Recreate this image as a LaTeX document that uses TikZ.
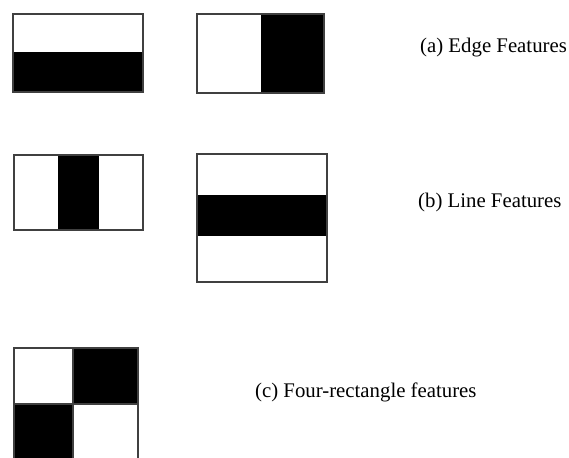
\documentclass[tikz,border=0pt]{standalone}
\usepackage{fontspec}
\setmainfont{Liberation Serif}
\begin{document}
\begin{tikzpicture}[x=1pt,y=-1pt,
  frame/.style={draw=black!75,line width=1.3pt},
  dark/.style={fill=black},
  caption/.style={anchor=west,inner sep=0pt,font=\fontsize{20.8}{24}\selectfont}]
\useasboundingbox (0,0) rectangle (569,457);
\clip (0,0) rectangle (569,457);
% (a) edge features
\fill[dark] (13,52) rectangle (143,92);
\draw[frame] (13,14) rectangle (143,92);
\fill[dark] (261,14) rectangle (324,93);
\draw[frame] (197,14) rectangle (324,93);
\node[caption] (ea) at (420,48) {(a) Edge Features};
% (b) line features
\fill[dark] (58,155) rectangle (99,230);
\draw[frame] (14,155) rectangle (143,230);
\fill[dark] (197,195) rectangle (327,236);
\draw[frame] (197,154) rectangle (327,282);
\node[caption] (lb) at (418,202) {(b) Line Features};
% (c) four-rectangle features
\fill[dark] (73,348) rectangle (138,404);
\fill[dark] (14,404) rectangle (73,460);
\draw[frame] (14,348) rectangle (138,460);
\draw[frame] (14,404) -- (138,404);
\draw[frame] (73,348) -- (73,460);
\node[caption] (fc) at (255,392) {(c) Four-rectangle features};
\end{tikzpicture}
\end{document}
